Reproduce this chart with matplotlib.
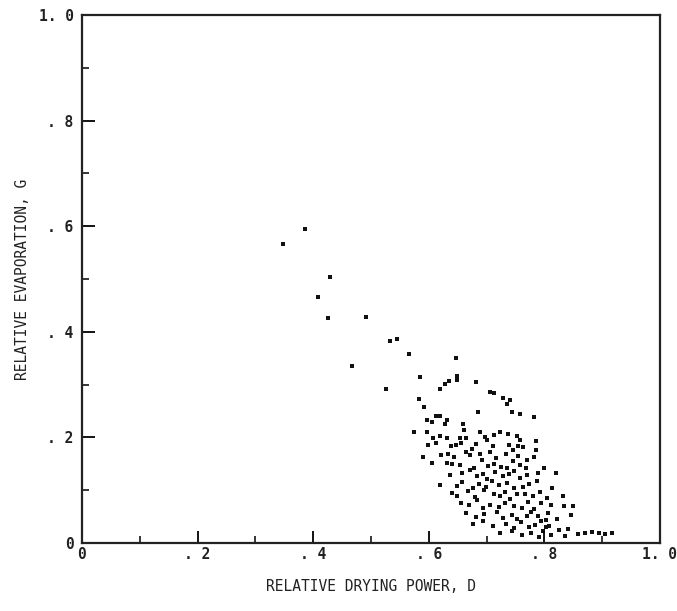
import matplotlib
matplotlib.use("Agg")
import matplotlib.pyplot as plt
from matplotlib.ticker import MultipleLocator

# Points (pixel estimates converted to data units)
px = [283, 305, 318, 330, 328, 366, 352, 390, 397, 409, 386, 420, 419, 414,
      440, 445, 449, 456, 457, 457, 476,
      490, 494, 503, 510, 512, 520, 534, 507, 424, 427, 432, 436, 440, 445, 447, 463, 464, 478,
      427, 433, 440, 447, 460, 466, 480, 485, 494, 500, 508, 517, 520, 536,
      428, 436, 451, 456, 461, 472, 476, 487, 493, 509, 518, 523, 536,
      423, 441, 448, 454, 466, 470, 480, 490, 496, 506, 513, 518, 527, 534,
      432, 447, 452, 460, 474, 482, 488, 494, 501, 507, 513, 520, 526, 544,
      450, 462, 470, 477, 483, 487, 495, 503, 509, 514, 520, 527, 538, 556,
      440, 457, 462, 473, 479, 486, 492, 499, 507, 514, 523, 529, 537, 552,
      452, 457, 468, 475, 484, 494, 500, 505, 510, 517, 525, 533, 540, 547, 563,
      461, 469, 477, 483, 490, 499, 505, 514, 522, 528, 534, 541, 551, 564, 573,
      466, 476, 484, 497, 503, 512, 517, 527, 531, 538, 548, 557, 571,
      473, 483, 493, 506, 514, 521, 529, 535, 541, 549, 559, 568,
      500, 512, 522, 531, 539, 543, 546, 551, 565, 578, 585, 592, 599, 605, 612, 546]
py = [244, 229, 297, 277, 318, 317, 366, 341, 339, 354, 389, 377, 399, 432,
      389, 384, 381, 358, 376, 380, 382,
      392, 393, 398, 400, 412, 414, 417, 404, 407, 420, 422, 416, 416, 424, 420, 424, 430, 412,
      432, 438, 436, 438, 438, 438, 432, 437, 435, 432, 434, 436, 440, 441,
      445, 443, 446, 445, 443, 449, 444, 440, 446, 445, 446, 447, 450,
      457, 455, 454, 457, 452, 455, 454, 452, 458, 454, 450, 456, 460, 457,
      463, 463, 464, 465, 468, 460, 466, 464, 467, 468, 461, 465, 468, 468,
      475, 473, 470, 476, 474, 479, 472, 476, 474, 471, 478, 475, 473, 473,
      485, 486, 482, 488, 484, 487, 481, 485, 483, 488, 487, 484, 481, 488,
      493, 496, 491, 497, 490, 494, 496, 492, 499, 494, 494, 496, 492, 498, 496,
      503, 505, 500, 508, 505, 507, 503, 506, 508, 502, 509, 503, 505, 506, 506,
      513, 517, 514, 512, 518, 515, 519, 516, 512, 516, 513, 519, 515,
      524, 521, 526, 524, 528, 522, 527, 525, 521, 526, 530, 529,
      533, 531, 535, 533, 537, 531, 527, 535, 536, 534, 533, 532, 533, 534, 533, 520]

D = [(p - 82) / 578 for p in px]
G = [(543 - q) / 528 for q in py]

xticks = [0, 0.2, 0.4, 0.6, 0.8, 1.0]
xticklabels = ["0", ". 2", ". 4", ". 6", ". 8", "1. 0"]
yticks = [0, 0.2, 0.4, 0.6, 0.8, 1.0]
yticklabels = ["0", ". 2", ". 4", ". 6", ". 8", "1. 0"]

plt.rcParams["font.family"] = ["DejaVu Sans Mono"]

fig = plt.figure(figsize=(6.77, 6.11), dpi=100)
ax = fig.add_axes([82 / 677, 1 - 543 / 611, 578 / 677, 528 / 611])
ax.scatter(D, G, s=12, marker="s", color="#111111", linewidths=0)

ax.set_xlim(0, 1)
ax.set_ylim(0, 1)
ax.set_xticks(xticks)
ax.set_xticklabels(xticklabels, fontsize=10.5, color="#222222", fontweight="bold")
ax.set_yticks(yticks)
ax.set_yticklabels(yticklabels, fontsize=10.5, color="#222222", fontweight="bold")
ax.xaxis.set_minor_locator(MultipleLocator(0.1))
ax.yaxis.set_minor_locator(MultipleLocator(0.1))
ax.tick_params(which="major", direction="in", length=9, width=1.3)
ax.tick_params(axis="x", which="major", pad=3)
ax.tick_params(axis="y", which="major", pad=6)
ax.tick_params(which="minor", direction="in", length=5, width=1.1)
for s in ax.spines.values():
    s.set_linewidth(1.6)
    s.set_color("#222222")

ax.set_xlabel("RELATIVE DRYING POWER, D", fontsize=10.5, labelpad=12, color="#222222")
ax.set_ylabel("RELATIVE EVAPORATION, G", fontsize=10.5, labelpad=6, color="#222222")

fig.savefig("out.png", dpi=100)
